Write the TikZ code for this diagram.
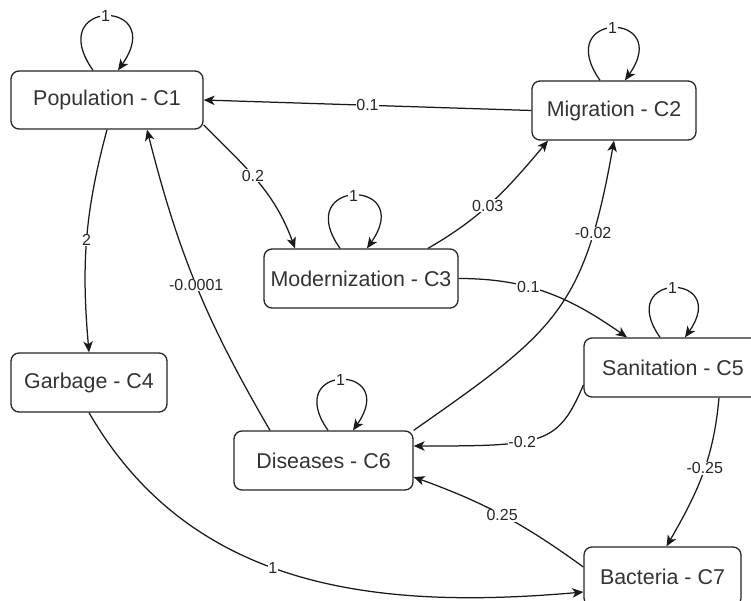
\documentclass[tikz,border=0pt]{standalone}
\usepackage{fontspec}
\setmainfont{Liberation Sans}
\usetikzlibrary{arrows.meta,calc}
\begin{document}
\begin{tikzpicture}[x=1pt,y=-1pt,
  box/.style={draw=black!85, line width=1.3pt, rounded corners=8pt, inner sep=0pt,
    font=\fontsize{21.4}{24}\selectfont, text=black!80, fill=white},
  arr/.style={draw=black!90, line width=1.25pt, -{Stealth[length=11pt,width=9.5pt,inset=3pt]}},
  lbl/.style={fill=white, inner sep=0.8pt, font=\fontsize{16}{18}\selectfont, text=black!85},
  selfloop/.style={arr}
]
\useasboundingbox (0,0) rectangle (751,601);
\clip (0,0) rectangle (751,601);

\node[box, minimum width=192pt, minimum height=58pt] (C1) at (107,100) {Population - C1};
\node[box, minimum width=164pt, minimum height=59pt] (C2) at (614,110.5) {Migration - C2};
\node[box, minimum width=194pt, minimum height=59pt] (C3) at (361,278.5) {Modernization - C3};
\node[box, minimum width=156pt, minimum height=59pt] (C4) at (89,382.5) {Garbage - C4};
\node[box, minimum width=178pt, minimum height=59pt] (C5) at (673,367.5) {Sanitation - C5};
\node[box, minimum width=179pt, minimum height=59pt] (C6) at (323.5,460.5) {Diseases - C6};
\node[box, minimum width=157pt, minimum height=59pt] (C7) at (662.5,576.5) {Bacteria - C7};

% self loops
\draw[selfloop] ([xshift=-14pt]C1.north) .. controls +(125:88pt) and +(55:88pt) .. node[lbl]{1} ([xshift=11pt]C1.north);
\draw[selfloop] ([xshift=-14pt]C2.north) .. controls +(125:85pt) and +(55:85pt) .. node[lbl]{1} ([xshift=11pt]C2.north);
\draw[selfloop] ([xshift=-21pt]C3.north) .. controls +(125:86pt) and +(55:86pt) .. node[lbl]{1} ([xshift=6pt]C3.north);
\draw[selfloop] ([xshift=-13pt]C5.north) .. controls +(125:80pt) and +(55:80pt) .. node[lbl]{1} ([xshift=12pt]C5.north);
\draw[selfloop] ([xshift=4.5pt]C6.north) .. controls +(125:82pt) and +(55:82pt) .. node[lbl]{1} ([xshift=29.5pt]C6.north);

% edges
\draw[arr] (C2.west) -- node[lbl]{0.1} (C1.east);
\draw[arr] ([yshift=-25pt]C1.east) to[out=-45,in=110] node[lbl,pos=0.45]{0.2} ([xshift=-66pt]C3.north);
\draw[arr] (C1.south) to[out=-105,in=95] node[lbl]{2} (C4.north);
\draw[arr] ([xshift=-53.5pt]C6.north) to[bend left=8] node[lbl]{-0.0001} ([xshift=40pt]C1.south);
\draw[arr] ([xshift=67pt]C3.north) to[out=30,in=-130] node[lbl,pos=0.45]{0.03} ([xshift=-66pt]C2.south);
\draw[arr] (C6.north east) to[out=35,in=-100,looseness=1.25] node[lbl,pos=0.78]{-0.02} (C2.south);
\draw[arr] (C3.east) to[out=0,in=145] node[lbl,pos=0.38]{0.1} ([xshift=-46pt]C5.north);
\draw[arr] ([yshift=-17.5pt]C5.west) .. controls +(247:65pt) and +(0:130pt) .. node[lbl,pos=0.6]{-0.2} ([yshift=14.5pt]C6.east);
\draw[arr] ([xshift=46pt]C5.south) to[out=-95,in=60] node[lbl,pos=0.45]{-0.25} ([xshift=4pt]C7.north);
\draw[arr] ([yshift=9.5pt]C7.west) to[bend right=8] node[lbl]{0.25} ([yshift=-16.5pt]C6.east);
\draw[arr] (C4.south) to[out=-60,in=185] node[lbl,pos=0.45]{1} ([yshift=-15.5pt]C7.west);
\end{tikzpicture}
\end{document}
